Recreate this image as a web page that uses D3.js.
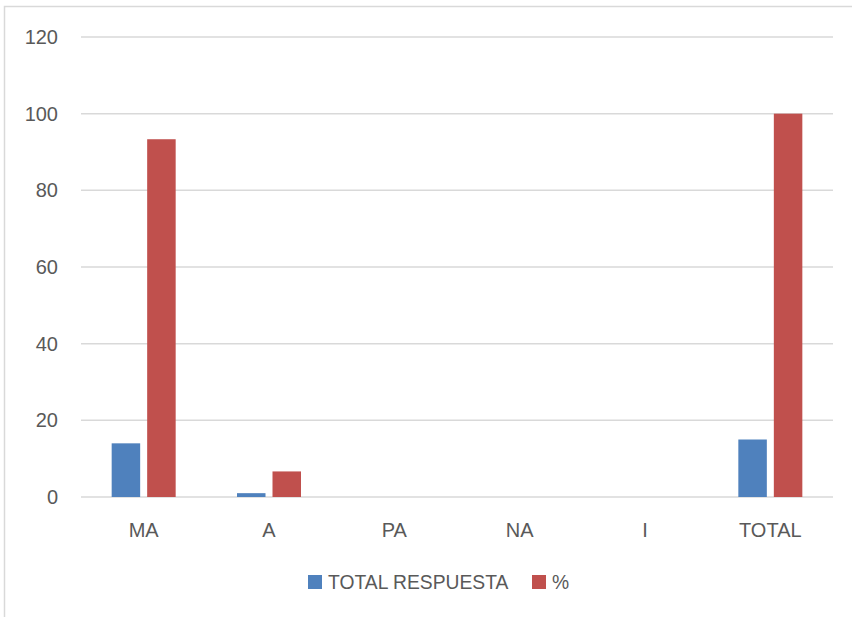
<!DOCTYPE html>
<html>
<head>
<meta charset="utf-8">
<script src="https://cdn.jsdelivr.net/npm/d3@7"></script>
<style>
	body { margin: 0; background: #fff; }
	svg { display: block; font-family: "Liberation Sans", Arial, sans-serif; }
</style>
</head>
<body>
<svg id="chart"></svg>
<script>
// chart data
const categories = ["MA", "A", "PA", "NA", "I", "TOTAL"];
const totalRespuesta = [14, 1, 0, 0, 0, 15];
const percent = [93.33, 6.67, 0, 0, 0, 100];
const seriesNames = ["TOTAL RESPUESTA", "%"];
const seriesColors = ["#4f81bd", "#c0504d"];
const yTicks = [0, 20, 40, 60, 80, 100, 120];

const width = 852;
const height = 617;
const margin = { top: 37, right: 19, bottom: 120, left: 81 };

const svg = d3.select("#chart")
	.attr("width", width)
	.attr("height", height);

// chart frame (only left/top edges visible in the picture)
svg.append("rect")
	.attr("x", 4.5)
	.attr("y", 6.5)
	.attr("width", width + 20)
	.attr("height", height + 20)
	.attr("fill", "none")
	.attr("stroke", "#d9d9d9")
	.attr("stroke-width", 1.5);

const x = d3.scaleBand()
	.domain(categories)
	.range([margin.left, width - margin.right]);

const y = d3.scaleLinear()
	.domain([0, 120])
	.range([height - margin.bottom, margin.top]);

// gridlines
svg.append("g")
	.selectAll("line")
	.data(yTicks)
	.join("line")
	.attr("x1", margin.left)
	.attr("x2", width - margin.right)
	.attr("y1", (d) => y(d))
	.attr("y2", (d) => y(d))
	.attr("stroke", "#d9d9d9")
	.attr("stroke-width", 1.5);

// y labels
svg.append("g")
	.selectAll("text")
	.data(yTicks)
	.join("text")
	.attr("x", 58)
	.attr("y", (d) => y(d))
	.attr("dy", "0.35em")
	.attr("text-anchor", "end")
	.style("font-size", "20px")
	.style("fill", "#595959")
	.text((d) => d);

// bars
const barW = 28.5;
const innerGap = 7;
const rows = categories.map((c, i) => ({ cat: c, values: [totalRespuesta[i], percent[i]] }));

const groups = svg.append("g")
	.selectAll("g")
	.data(rows)
	.join("g")
	.attr("transform", (d) => `translate(${x(d.cat) + x.bandwidth() / 2},0)`);

groups.selectAll("rect")
	.data((d) => d.values.map((v, k) => ({ v, k })))
	.join("rect")
	.attr("x", (d) => d.k === 0 ? -innerGap / 2 - barW : innerGap / 2)
	.attr("width", barW)
	.attr("y", (d) => y(d.v))
	.attr("height", (d) => y(0) - y(d.v))
	.attr("fill", (d) => seriesColors[d.k]);

// x labels
svg.append("g")
	.selectAll("text")
	.data(categories)
	.join("text")
	.attr("x", (d) => x(d) + x.bandwidth() / 2)
	.attr("y", 537)
	.attr("text-anchor", "middle")
	.style("font-size", "20px")
	.style("fill", "#595959")
	.text((d) => d);

// legend
const legendPos = [308, 532];
const legend = svg.append("g")
	.selectAll("g")
	.data(seriesNames)
	.join("g")
	.attr("transform", (d, i) => `translate(${legendPos[i]},575)`);

legend.append("rect")
	.attr("width", 14)
	.attr("height", 14)
	.attr("fill", (d, i) => seriesColors[i]);

legend.append("text")
	.attr("x", 20)
	.attr("y", 14)
	.style("font-size", "19.3px")
	.style("fill", "#595959")
	.text((d) => d);
</script>
</body>
</html>
